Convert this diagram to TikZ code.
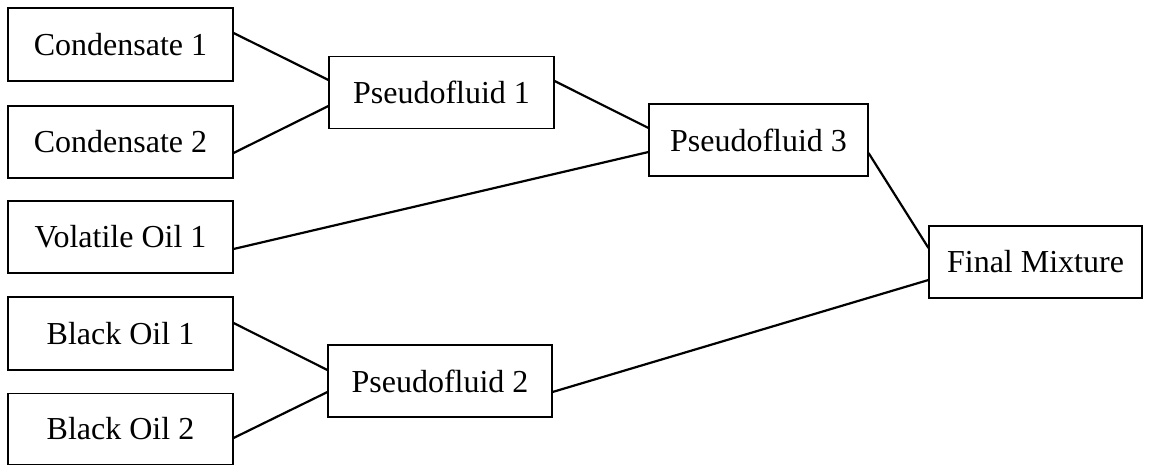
\documentclass[tikz,border=0pt]{standalone}
\usepackage{fontspec}
\setmainfont{Liberation Serif}
\begin{document}
\begin{tikzpicture}[x=1pt,y=-1pt,
  box/.style={draw=black, line width=1.1pt, inner sep=0pt, minimum height=72pt,
              font=\fontsize{32}{36}\selectfont},
  link/.style={draw=black, line width=2.2pt}]
  \useasboundingbox (0,0) rectangle (1156,465);

  % source fluids
  \node[box, minimum width=225pt, minimum height=73pt] (c1) at (120.5,44.5) {Condensate 1};
  \node[box, minimum width=225pt] (c2) at (120.5,142) {Condensate 2};
  \node[box, minimum width=225pt] (v1) at (120.5,237) {Volatile Oil 1};
  \node[box, minimum width=225pt, minimum height=73pt] (b1) at (120.5,333.5) {Black Oil 1};
  \node[box, minimum width=225pt, minimum height=71pt] (b2) at (120.5,429) {Black Oil 2};

  % intermediate pseudofluids
  \node[box, minimum width=225pt] (p1) at (441.5,92.5) {Pseudofluid 1};
  \node[box, minimum width=224pt] (p2) at (440,381) {Pseudofluid 2};
  \node[box, minimum width=219pt] (p3) at (758.5,140) {Pseudofluid 3};

  % result
  \node[box, minimum width=213pt] (fm) at (1035.5,262) {Final Mixture};

  % mixing connections
  \draw[link] ([yshift=11.5pt]c1.east) -- ([yshift=12.5pt]p1.west);
  \draw[link] ([yshift=-11pt]c2.east) -- ([yshift=-13.5pt]p1.west);
  \draw[link] ([yshift=11.5pt]p1.east) -- ([yshift=12pt]p3.west);
  \draw[link] ([yshift=-12pt]v1.east) -- ([yshift=-12pt]p3.west);
  \draw[link] ([yshift=-13pt]p3.east) -- ([yshift=14pt]fm.west);
  \draw[link] ([yshift=10.5pt]b1.east) -- ([yshift=11pt]p2.west);
  \draw[link] ([yshift=-9pt]b2.east) -- ([yshift=-11pt]p2.west);
  \draw[link] ([yshift=-11pt]p2.east) -- ([yshift=-18pt]fm.west);
\end{tikzpicture}
\end{document}
